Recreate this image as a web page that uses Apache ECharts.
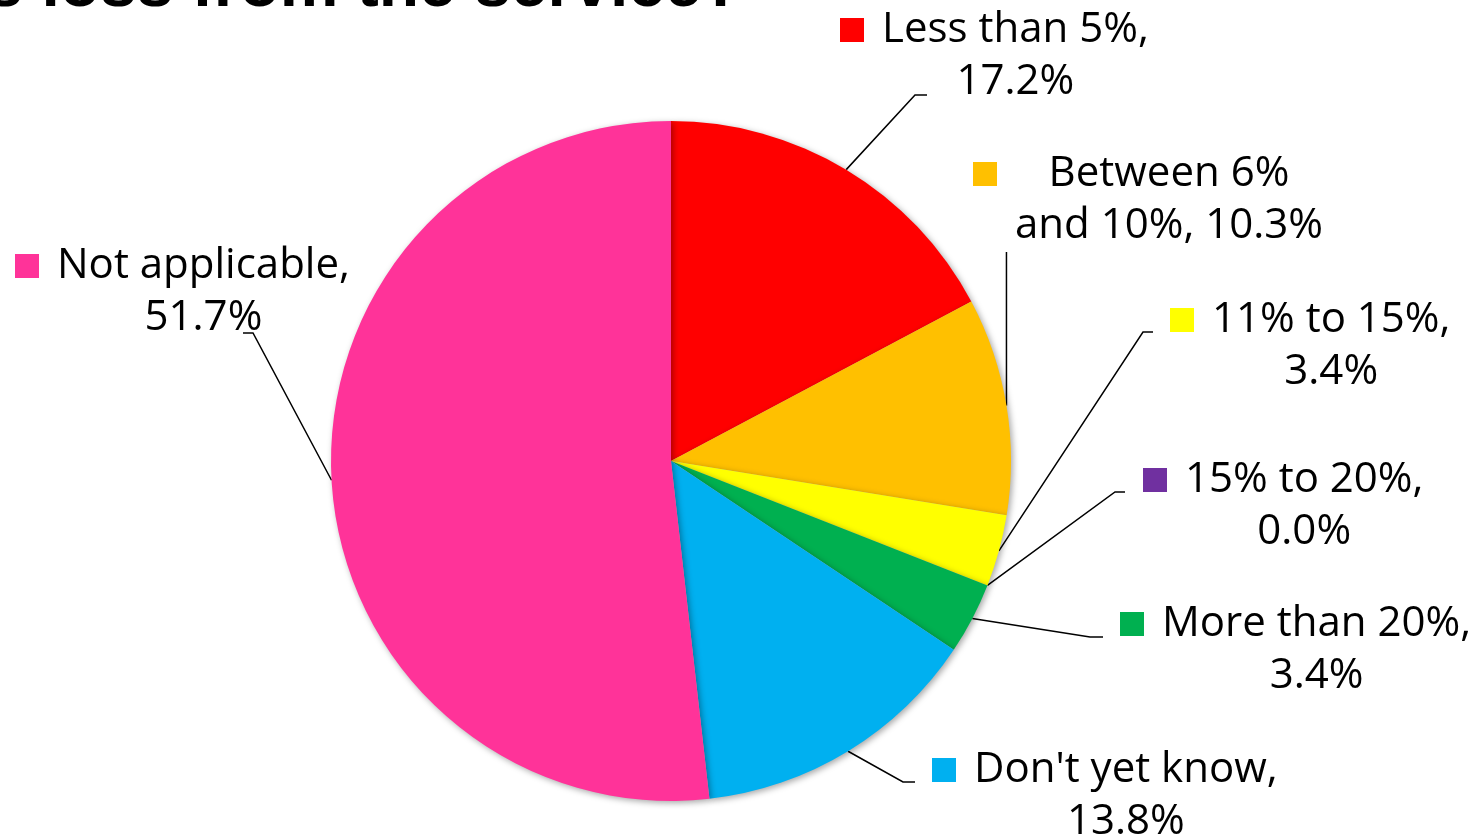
<!DOCTYPE html>
<html>
<head>
<meta charset="utf-8">
<script src="https://cdn.jsdelivr.net/npm/echarts@6/dist/echarts.min.js"></script>
<style>
  html, body { margin: 0; padding: 0; background: #fff; }
  #main { width: 1472px; height: 840px; }
</style>
</head>
<body>
<div id="main"></div>
<script>
// 数据
var categories = ['Less than 5%', 'Between 6% and 10%', '11% to 15%', '15% to 20%', 'More than 20%', "Don't yet know", 'Not applicable'];
var values = [17.2, 10.3, 3.4, 0.0, 3.4, 13.8, 51.7];
var colors = ['#FF0000', '#FFC000', '#FFFF00', '#7030A0', '#00B050', '#00B0F0', '#FF3399'];
// words on the first line of each label
var firstLineWords = [3, 2, 3, 3, 3, 3, 2];

// label block positions (top-left) and guide line end offsets
var labelPos = [
  { x: 840, y: 4, ex: 87, ey: 91, dx: -12, dy: 0 },
  { x: 973, y: 148, ex: 'v', ey: 104, dx: 0, dy: 0 },
  { x: 1170, y: 294, ex: -17, ey: 38, dx: -10, dy: 0 },
  { x: 1143, y: 454, ex: -18, ey: 38, dx: -10, dy: 0 },
  { x: 1120, y: 598, ex: -17, ey: 39, dx: -13, dy: 0 },
  { x: 932, y: 744, ex: -17, ey: 38, dx: -12, dy: 0 },
  { x: 15, y: 240, ex: 228, ey: 93, dx: 10, dy: 0 }
];

var myChart = echarts.init(document.getElementById('main'))

var rich = {
  t: { fontFamily: 'Open Sans', fontSize: 42, color: '#000', lineHeight: 52, align: 'center' },
  g: { width: 18, height: 24, align: 'left' },
  sp: { width: 42, height: 24, align: 'left' }
};
colors.forEach(function (c, i) {
  rich['sq' + i] = { width: 24, height: 24, backgroundColor: c, align: 'left' };
});

var pieData = categories.map(function (name, i) {
  return { name: name, value: values[i], itemStyle: { color: colors[i] } };
});

const option = {
  animation: false,
  graphic: [{
    type: 'text',
    x: 742,
    y: 21,
    z: 10,
    style: {
      text: 's loss from the service?',
      font: 'bold 66px "Liberation Sans"',
      fill: '#000',
      align: 'right',
      verticalAlign: 'bottom',
      textAlign: 'right',
      textVerticalAlign: 'bottom'
    }
  }],
  series: [{
    type: 'pie',
    center: [671, 461],
    radius: 340,
    startAngle: 90,
    clockwise: true,
    avoidLabelOverlap: false,
    itemStyle: {
      shadowBlur: 6,
      shadowOffsetX: 2,
      shadowOffsetY: 2,
      shadowColor: 'rgba(0,0,0,0.35)'
    },
    label: {
      show: true,
      position: 'outside',
      rich: rich,
      lineHeight: 52,
      formatter: function (p) {
        var i = p.dataIndex;
        var words = (categories[i] + ', ' + values[i].toFixed(1) + '%').split(' ');
        var l1 = words.slice(0, firstLineWords[i]).join(' ');
        var l2 = words.slice(firstLineWords[i]).join(' ');
        return '{sq' + i + '|}{g|}{t|' + l1 + '}\n{sp|}{t|' + l2 + '}';
      }
    },
    labelLine: {
      show: true,
      lineStyle: { color: '#000', width: 1.5 }
    },
    labelLayout: function (params) {
      var lp = labelPos[params.dataIndex];
      var a = params.labelLinePoints ? params.labelLinePoints[0] : [0, 0];
      var end, mid;
      if (lp.ex === 'v') {
        end = [a[0], lp.y + lp.ey];
        mid = end;
      } else {
        end = [lp.x + lp.ex, lp.y + lp.ey];
        mid = [end[0] + lp.dx, end[1] + lp.dy];
      }
      return {
        x: lp.x,
        y: lp.y,
        align: 'left',
        verticalAlign: 'top',
        labelLinePoints: [a, mid, end]
      };
    },
    data: pieData
  }]
}
myChart.setOption(option)
</script>
</body>
</html>
